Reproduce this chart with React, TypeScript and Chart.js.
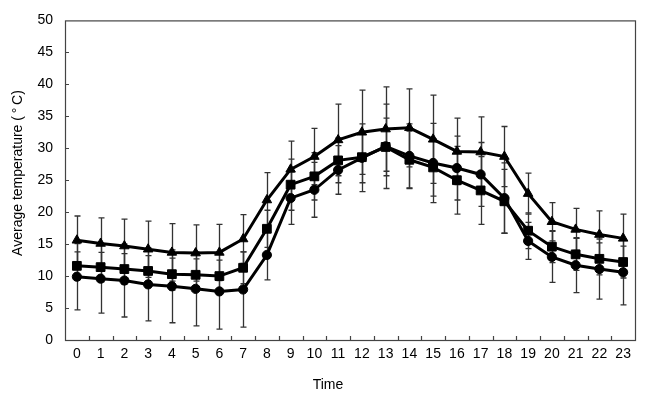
import React, { useEffect, useRef } from "react";
import { Chart, registerables } from "chart.js";

Chart.register(...registerables);

const hours = ["0","1","2","3","4","5","6","7","8","9","10","11","12","13","14","15","16","17","18","19","20","21","22","23"];

const triangleValues = [15.6, 15.1, 14.7, 14.2, 13.7, 13.6, 13.7, 15.8, 21.9, 26.7, 28.7, 31.3, 32.5, 33.0, 33.2, 31.4, 29.5, 29.4, 28.7, 22.9, 18.5, 17.3, 16.5, 15.9];
const triangleErrors = [3.8, 4.0, 4.2, 4.4, 4.5, 4.4, 4.4, 3.8, 4.3, 4.4, 4.4, 5.6, 6.6, 6.6, 6.1, 6.9, 5.2, 5.5, 4.7, 3.2, 3.0, 3.3, 3.7, 3.8];

const squareValues = [11.6, 11.4, 11.1, 10.8, 10.3, 10.2, 10.0, 11.3, 17.4, 24.3, 25.6, 28.1, 28.6, 30.2, 28.2, 27.0, 25.0, 23.4, 21.7, 17.1, 14.6, 13.4, 12.7, 12.2];
const squareErrors = [2.2, 2.3, 2.4, 2.4, 2.5, 2.5, 2.5, 2.5, 2.9, 4.0, 3.7, 3.5, 4.0, 4.5, 4.5, 4.5, 5.3, 5.3, 5.0, 2.8, 2.5, 2.5, 2.5, 2.5];

const circleValues = [9.9, 9.6, 9.3, 8.7, 8.4, 8.0, 7.6, 7.9, 13.3, 22.2, 23.5, 26.6, 28.5, 30.3, 28.8, 27.7, 26.9, 25.9, 22.2, 15.5, 13.0, 11.7, 11.1, 10.6];
const circleErrors = [5.2, 5.4, 5.7, 5.7, 5.7, 5.8, 5.9, 5.9, 3.9, 4.1, 4.3, 3.8, 5.3, 6.6, 5.0, 6.2, 5.0, 5.0, 5.5, 2.9, 4.0, 4.3, 4.7, 5.1];

const yTickStep = 5;
const yMin = 0;
const yMax = 50;

const xTitle = "Time";
const yTitle = "Average temperature (\u2009°\u2009C)";

const errorSets = [triangleErrors, squareErrors, circleErrors];

const FONT = "'Liberation Sans', Arial, sans-serif";

const decorPlugin = {
  id: "decor",
  beforeDatasetsDraw(chart: any) {
    const ctx = chart.ctx;
    const xs = chart.scales.x;
    const ys = chart.scales.y;
    ctx.save();
    ctx.strokeStyle = "#333";
    ctx.lineWidth = 1.3;
    chart.data.datasets.forEach((ds: any, di: number) => {
      const errs = errorSets[di];
      ds.data.forEach((v: number, i: number) => {
        const px = Math.round(xs.getPixelForValue(i)) + 0.5;
        const top = ys.getPixelForValue(v + errs[i]);
        const bot = ys.getPixelForValue(v - errs[i]);
        ctx.beginPath();
        ctx.moveTo(px, top);
        ctx.lineTo(px, bot);
        ctx.moveTo(px - 3, top);
        ctx.lineTo(px + 3, top);
        ctx.moveTo(px - 3, bot);
        ctx.lineTo(px + 3, bot);
        ctx.stroke();
      });
    });
    ctx.restore();
  },
  afterDraw(chart: any) {
    const ctx = chart.ctx;
    const a = chart.chartArea;
    const xs = chart.scales.x;
    const ys = chart.scales.y;
    ctx.save();
    ctx.strokeStyle = "#444";
    ctx.lineWidth = 1.2;
    ctx.strokeRect(a.left + 0.5, a.top + 0.5, a.right - a.left, a.bottom - a.top);
    ctx.beginPath();
    for (let v = yMin + yTickStep; v < yMax; v += yTickStep) {
      const py = Math.round(ys.getPixelForValue(v)) + 0.5;
      ctx.moveTo(a.left, py);
      ctx.lineTo(a.left + 4, py);
    }
    const n = hours.length;
    for (let k = 1; k < n; k++) {
      const px = Math.round((xs.getPixelForValue(k - 1) + xs.getPixelForValue(k)) / 2) + 0.5;
      ctx.moveTo(px, a.bottom);
      ctx.lineTo(px, a.bottom - 4);
    }
    ctx.stroke();

    ctx.fillStyle = "#000";
    ctx.font = `14px ${FONT}`;
    ctx.textAlign = "center";
    ctx.textBaseline = "middle";
    ctx.fillText(xTitle, 328, 385);
    ctx.translate(18, 173);
    ctx.rotate(-Math.PI / 2);
    ctx.fillText(yTitle, 0, 0);
    ctx.restore();
  },
};

export default function App() {
  const ref = useRef<HTMLCanvasElement>(null);
  useEffect(() => {
    if (!ref.current) return;
    const common = {
      borderColor: "#000",
      backgroundColor: "#000",
      borderWidth: 3,
      pointBorderWidth: 1,
      pointBackgroundColor: "#000",
      pointBorderColor: "#000",
      tension: 0,
    };
    const chart = new Chart(ref.current, {
      type: "line",
      data: {
        labels: hours,
        datasets: [
          { ...common, data: triangleValues, pointStyle: "triangle", pointRadius: 5.5 },
          { ...common, data: squareValues, pointStyle: "rect", pointRadius: 6.2 },
          { ...common, data: circleValues, pointStyle: "circle", pointRadius: 4.6 },
        ],
      },
      options: {
        animation: false,
        responsive: false,
        maintainAspectRatio: false,
        layout: { padding: { left: 0, top: 19, right: 11, bottom: 0 } },
        plugins: { legend: { display: false }, tooltip: { enabled: false } },
        scales: {
          x: {
            type: "category",
            offset: true,
            grid: { display: false, drawTicks: false },
            border: { display: false },
            ticks: { color: "#000", font: { family: FONT, size: 14 }, padding: 6, maxRotation: 0, autoSkip: false },
            afterFit: (s: any) => { s.height = 58; },
          },
          y: {
            min: yMin,
            max: yMax,
            grid: { display: false, drawTicks: false },
            border: { display: false },
            ticks: { stepSize: yTickStep, color: "#000", font: { family: FONT, size: 14 }, padding: 12 },
            afterFit: (s: any) => { s.width = 65; },
          },
        },
      },
      plugins: [decorPlugin],
    } as any);
    return () => chart.destroy();
  }, []);
  return (
    <div style={{ position: "absolute", left: 0, top: 0, width: 646, height: 398, background: "#fff" }}>
      <canvas ref={ref} width={646} height={398} style={{ display: "block", width: 646, height: 398 }} />
    </div>
  );
}
